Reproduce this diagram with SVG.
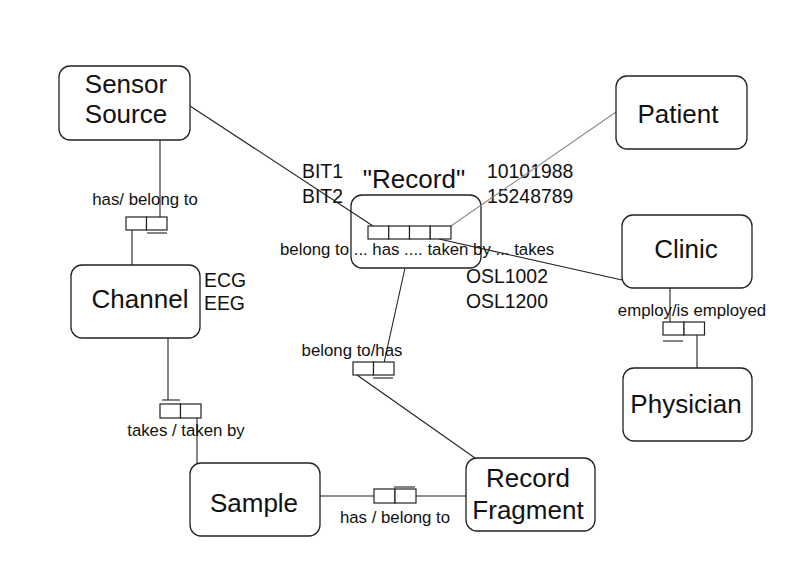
<svg xmlns="http://www.w3.org/2000/svg" width="790" height="583" viewBox="0 0 790 583">
<style>
.node{fill:#fff;stroke:#222;stroke-width:1.3}
.cell{fill:#fff;stroke:#222;stroke-width:1.2}
.t{font-family:"Liberation Sans",Arial,sans-serif;font-size:26px;fill:#111;text-anchor:middle}
.s{font-family:"Liberation Sans",Arial,sans-serif;font-size:16.8px;fill:#111}
.m{font-family:"Liberation Sans",Arial,sans-serif;font-size:19.4px;fill:#111}
.c{fill:none;stroke:#222;stroke-width:1.1}
.g{fill:none;stroke:#888;stroke-width:1.1}
</style>
<rect width="790" height="583" fill="#fff"/>
<g id="record">
<text class="t" x="414" y="188">"Record"</text>
<rect class="node" x="351" y="195" width="130" height="73" rx="11"/>
<text class="s" x="280" y="255">belong to ... has .... taken by ... takes</text>
<text class="m" x="302" y="178">BIT1</text>
<text class="m" x="302" y="203">BIT2</text>
<text class="m" x="487" y="178">10101988</text>
<text class="m" x="487" y="203">15248789</text>
<text class="m" x="466" y="283">OSL1002</text>
<text class="m" x="466" y="308">OSL1200</text>
</g>
<g id="connectors">
<line class="c" x1="190" y1="106" x2="373" y2="226"/>
<line class="g" x1="616" y1="112" x2="448" y2="228"/>
<line class="c" x1="439" y1="239" x2="622" y2="280"/>
<line class="c" x1="160" y1="140" x2="160" y2="224"/>
<line class="c" x1="132" y1="230" x2="132" y2="265"/>
<line class="c" x1="168" y1="338" x2="168" y2="400"/>
<line class="c" x1="197" y1="418" x2="197" y2="463"/>
<line class="c" x1="405" y1="268" x2="382" y2="372"/>
<line class="c" x1="357" y1="375" x2="475" y2="458"/>
<line class="c" x1="320" y1="496" x2="374" y2="496"/>
<line class="c" x1="416" y1="496" x2="466" y2="496"/>
<line class="c" x1="670" y1="288" x2="670" y2="330"/>
<line class="c" x1="697" y1="335" x2="697" y2="368"/>
</g>
<g id="record-cells">
<rect class="cell" x="368" y="226" width="20.75" height="13" fill="none"/>
<rect class="cell" x="388.75" y="226" width="20.75" height="13" fill="none"/>
<rect class="cell" x="409.5" y="226" width="20.75" height="13" fill="none"/>
<rect class="cell" x="430.25" y="226" width="20.75" height="13" fill="none"/>
</g>
<g id="sensor-source">
<rect class="node" x="59" y="66" width="131" height="74" rx="11"/>
<text class="t" x="126" y="93">Sensor</text>
<text class="t" x="126" y="123">Source</text>
</g>
<g id="patient">
<rect class="node" x="616" y="76" width="131" height="73" rx="11"/>
<text class="t" x="678" y="123">Patient</text>
</g>
<g id="clinic">
<rect class="node" x="622" y="215" width="130" height="73" rx="11"/>
<text class="t" x="686" y="258">Clinic</text>
</g>
<g id="channel">
<rect class="node" x="71" y="265" width="129" height="73" rx="11"/>
<text class="t" x="140" y="308">Channel</text>
<text class="m" x="204" y="287">ECG</text>
<text class="m" x="204" y="310">EEG</text>
</g>
<g id="physician">
<rect class="node" x="623" y="368" width="129" height="73" rx="11"/>
<text class="t" x="686" y="413">Physician</text>
</g>
<g id="sample">
<rect class="node" x="190" y="463" width="130" height="73" rx="11"/>
<text class="t" x="254" y="512">Sample</text>
</g>
<g id="record-fragment">
<rect class="node" x="466" y="458" width="129" height="73" rx="11"/>
<text class="t" x="528" y="487">Record</text>
<text class="t" x="528" y="519">Fragment</text>
</g>
<g id="rel-has-belong">
<text class="s" x="145" y="205" text-anchor="middle">has/ belong to</text>
<rect class="cell" x="126" y="217" width="20.5" height="13"/>
<rect class="cell" x="146.5" y="217" width="20.5" height="13" fill="none"/>
<line class="c" x1="147" y1="233" x2="167" y2="233"/>
</g>
<g id="rel-takes">
<line class="c" x1="162" y1="400" x2="180" y2="400"/>
<rect class="cell" x="160" y="404" width="20.5" height="14"/>
<rect class="cell" x="180.5" y="404" width="20.5" height="14"/>
<text class="s" x="186" y="436" text-anchor="middle">takes / taken by</text>
</g>
<g id="rel-belong-has">
<text class="s" x="352" y="356" text-anchor="middle">belong to/has</text>
<rect class="cell" x="353" y="362" width="20.5" height="13"/>
<rect class="cell" x="373.5" y="362" width="20.5" height="13" fill="none"/>
<line class="c" x1="373" y1="378" x2="393" y2="378"/>
</g>
<g id="rel-has-belong2">
<line class="c" x1="394" y1="487" x2="415" y2="487"/>
<rect class="cell" x="374" y="489" width="21" height="14"/>
<rect class="cell" x="395" y="489" width="21" height="14"/>
<text class="s" x="395" y="523" text-anchor="middle">has / belong to</text>
</g>
<g id="rel-employ">
<text class="s" x="692" y="316" text-anchor="middle">employ/is employed</text>
<rect class="cell" x="663" y="322" width="21" height="13"/>
<rect class="cell" x="684" y="322" width="20.5" height="13"/>
<line class="c" x1="663" y1="341" x2="683" y2="341"/>
</g>
</svg>
